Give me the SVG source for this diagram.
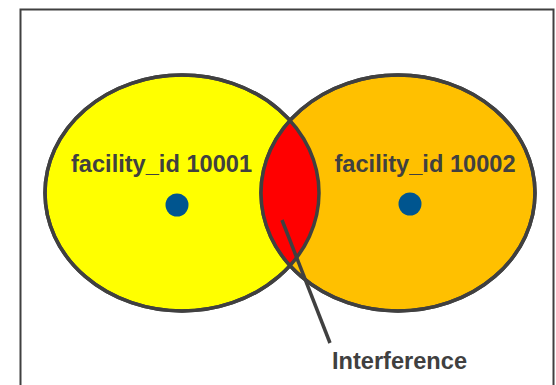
<svg xmlns="http://www.w3.org/2000/svg" width="556" height="385" viewBox="0 0 556 385">
  <style>
    .ring { stroke: #404040; stroke-width: 3.5; }
    .label { font-family: "Liberation Sans", Arial, sans-serif; font-weight: bold; font-size: 23.6px; fill: #404040; text-anchor: middle; }
    .site { fill: #00558f; }
  </style>
  <defs>
    <clipPath id="leftArea">
      <ellipse cx="182" cy="193" rx="137" ry="118"/>
    </clipPath>
  </defs>
  <rect x="20.5" y="9.5" width="533" height="400" fill="#ffffff" stroke="#404040" stroke-width="2"/>
  <g id="facility-10001">
    <ellipse class="ring" cx="182" cy="193" rx="137" ry="118" fill="#ffff00"/>
  </g>
  <g id="facility-10002">
    <ellipse class="ring" cx="398" cy="193" rx="137" ry="118" fill="#ffc000"/>
  </g>
  <g id="interference-zone">
    <ellipse cx="398" cy="193" rx="137" ry="118" fill="#ff0000" clip-path="url(#leftArea)"/>
    <ellipse cx="182" cy="193" rx="137" ry="118" fill="none" class="ring"/>
    <ellipse cx="398" cy="193" rx="137" ry="118" fill="none" class="ring"/>
  </g>
  <g id="facility-10001-label">
    <text class="label" x="161.5" y="172">facility_id 10001</text>
    <circle class="site" cx="177" cy="205" r="11.5"/>
  </g>
  <g id="facility-10002-label">
    <text class="label" x="425" y="172">facility_id 10002</text>
    <circle class="site" cx="410" cy="204" r="11.5"/>
  </g>
  <g id="connectors">
    <line x1="282" y1="220" x2="330" y2="343" stroke="#404040" stroke-width="3.5"/>
  </g>
  <g id="interference-label">
    <text class="label" x="399.5" y="369">Interference</text>
  </g>
</svg>
